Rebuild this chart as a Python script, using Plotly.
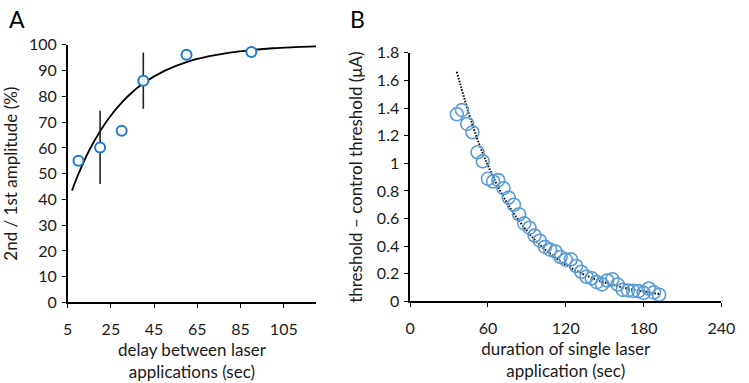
import plotly.graph_objects as go

# ---- Panel A data ----
a_delay = [10, 20, 30, 40, 60, 90]
a_ratio = [55.0, 60.2, 66.7, 86.1, 96.2, 97.2]
a_err = [0, 14.2, 0, 10.9, 0, 0]
a_fit_x = [7, 10, 15, 20, 25, 30, 35, 40, 50, 60, 70, 80, 90, 100, 110, 120]
a_fit_y = [43.4, 49.9, 59.1, 66.5, 72.6, 77.6, 81.7, 85.1, 90.0, 93.3, 95.5, 97.0, 98.0, 98.7, 99.1, 99.4]
a_xticks = [5, 25, 45, 65, 85, 105]

# ---- Panel B data ----
b_dur = [36, 40, 44, 48, 52, 56, 60, 64, 68, 72, 76, 80, 84, 88, 92, 96, 100, 104, 108, 112,
         116, 120, 124, 128, 132, 136, 140, 144, 148, 152, 156, 160, 164, 168, 172, 176, 180, 184, 188, 192]
b_thr = [1.355, 1.385, 1.285, 1.225, 1.080, 1.015, 0.888, 0.868, 0.878, 0.820,
         0.752, 0.700, 0.631, 0.565, 0.534, 0.477, 0.440, 0.395, 0.375, 0.362,
         0.322, 0.303, 0.305, 0.257, 0.215, 0.179, 0.168, 0.140, 0.124, 0.152,
         0.161, 0.123, 0.084, 0.080, 0.077, 0.075, 0.062, 0.094, 0.066, 0.049]
b_fit_x = [36, 48, 60, 72, 84, 96, 108, 120, 132, 144, 156, 168, 180, 192]
b_fit_y = [1.662, 1.279, 0.984, 0.757, 0.583, 0.448, 0.345, 0.265, 0.204, 0.157, 0.121, 0.093, 0.072, 0.055]
b_xticks = [0, 60, 120, 180, 240]

FONT = "Lato"
W, H = 749, 383
TXT = "#1a1a1a"

fig = go.Figure()

fig.add_trace(go.Scatter(x=a_fit_x, y=a_fit_y, mode="lines", line=dict(color="black", width=1.8, shape="spline"),
                         xaxis="x", yaxis="y", hoverinfo="skip"))
fig.add_trace(go.Scatter(x=a_delay, y=a_ratio, mode="markers",
                         marker=dict(symbol="circle", size=10, color="white", line=dict(color="#1a7ad4", width=2)),
                         error_y=dict(type="data", array=a_err, visible=True, color="#222222", thickness=1.6, width=0),
                         xaxis="x", yaxis="y"))

fig.add_trace(go.Scatter(x=b_fit_x, y=b_fit_y, mode="lines",
                         line=dict(color="black", width=2, dash="1.5px,1.5px", shape="spline"),
                         xaxis="x2", yaxis="y2", hoverinfo="skip"))
fig.add_trace(go.Scatter(x=b_dur, y=b_thr, mode="markers",
                         marker=dict(symbol="circle-open", size=13, color="#5b9bd5", line=dict(width=1.6)),
                         xaxis="x2", yaxis="y2"))

axis_common = dict(showline=True, linecolor="black", linewidth=1.5, ticks="outside", ticklen=4,
                   tickcolor="black", tickwidth=1.3, showgrid=False, zeroline=False,
                   tickfont=dict(family=FONT, size=16, color=TXT))
title_font = dict(family=FONT, size=17, color=TXT)

fig.update_layout(
    width=W, height=H, margin=dict(l=0, r=0, t=0, b=0),
    paper_bgcolor="white", plot_bgcolor="white", showlegend=False,
    font=dict(family=FONT, size=16, color=TXT),
    xaxis=dict(domain=[64.3 / W, 319.3 / W], range=[5, 120], tickvals=a_xticks, anchor="y",
               ticklabelstandoff=8,
               title=dict(text="delay between laser<br>applications (sec)", font=title_font, standoff=7),
               **axis_common),
    yaxis=dict(domain=[(H - 307.7) / H, (H - 36.7) / H], range=[0, 100], dtick=10, anchor="x",
               ticklabelstandoff=2,
               title=dict(text="2nd / 1st amplitude (%)", font=title_font, standoff=8),
               **axis_common),
    xaxis2=dict(domain=[415.7 / W, 735 / W], range=[0, 240], tickvals=b_xticks, anchor="y2",
                ticklabelstandoff=8,
                title=dict(text="duration of single laser<br>application (sec)", font=title_font, standoff=7),
                **axis_common),
    yaxis2=dict(domain=[(H - 306.7) / H, (H - 45) / H], range=[0, 1.8], dtick=0.2, anchor="x2",
                ticklabelstandoff=2,
                title=dict(text="threshold – control threshold (μA)", font=title_font, standoff=10),
                **axis_common),
    annotations=[
        dict(text="A", x=2 / W, y=1, xref="paper", yref="paper", xanchor="left", yanchor="top",
             showarrow=False, yshift=7, font=dict(family=FONT, size=23, color="black")),
        dict(text="B", x=352 / W, y=1, xref="paper", yref="paper", xanchor="left", yanchor="top",
             showarrow=False, yshift=7, font=dict(family=FONT, size=23, color="black")),
    ],
)

fig.write_html("out.html")
